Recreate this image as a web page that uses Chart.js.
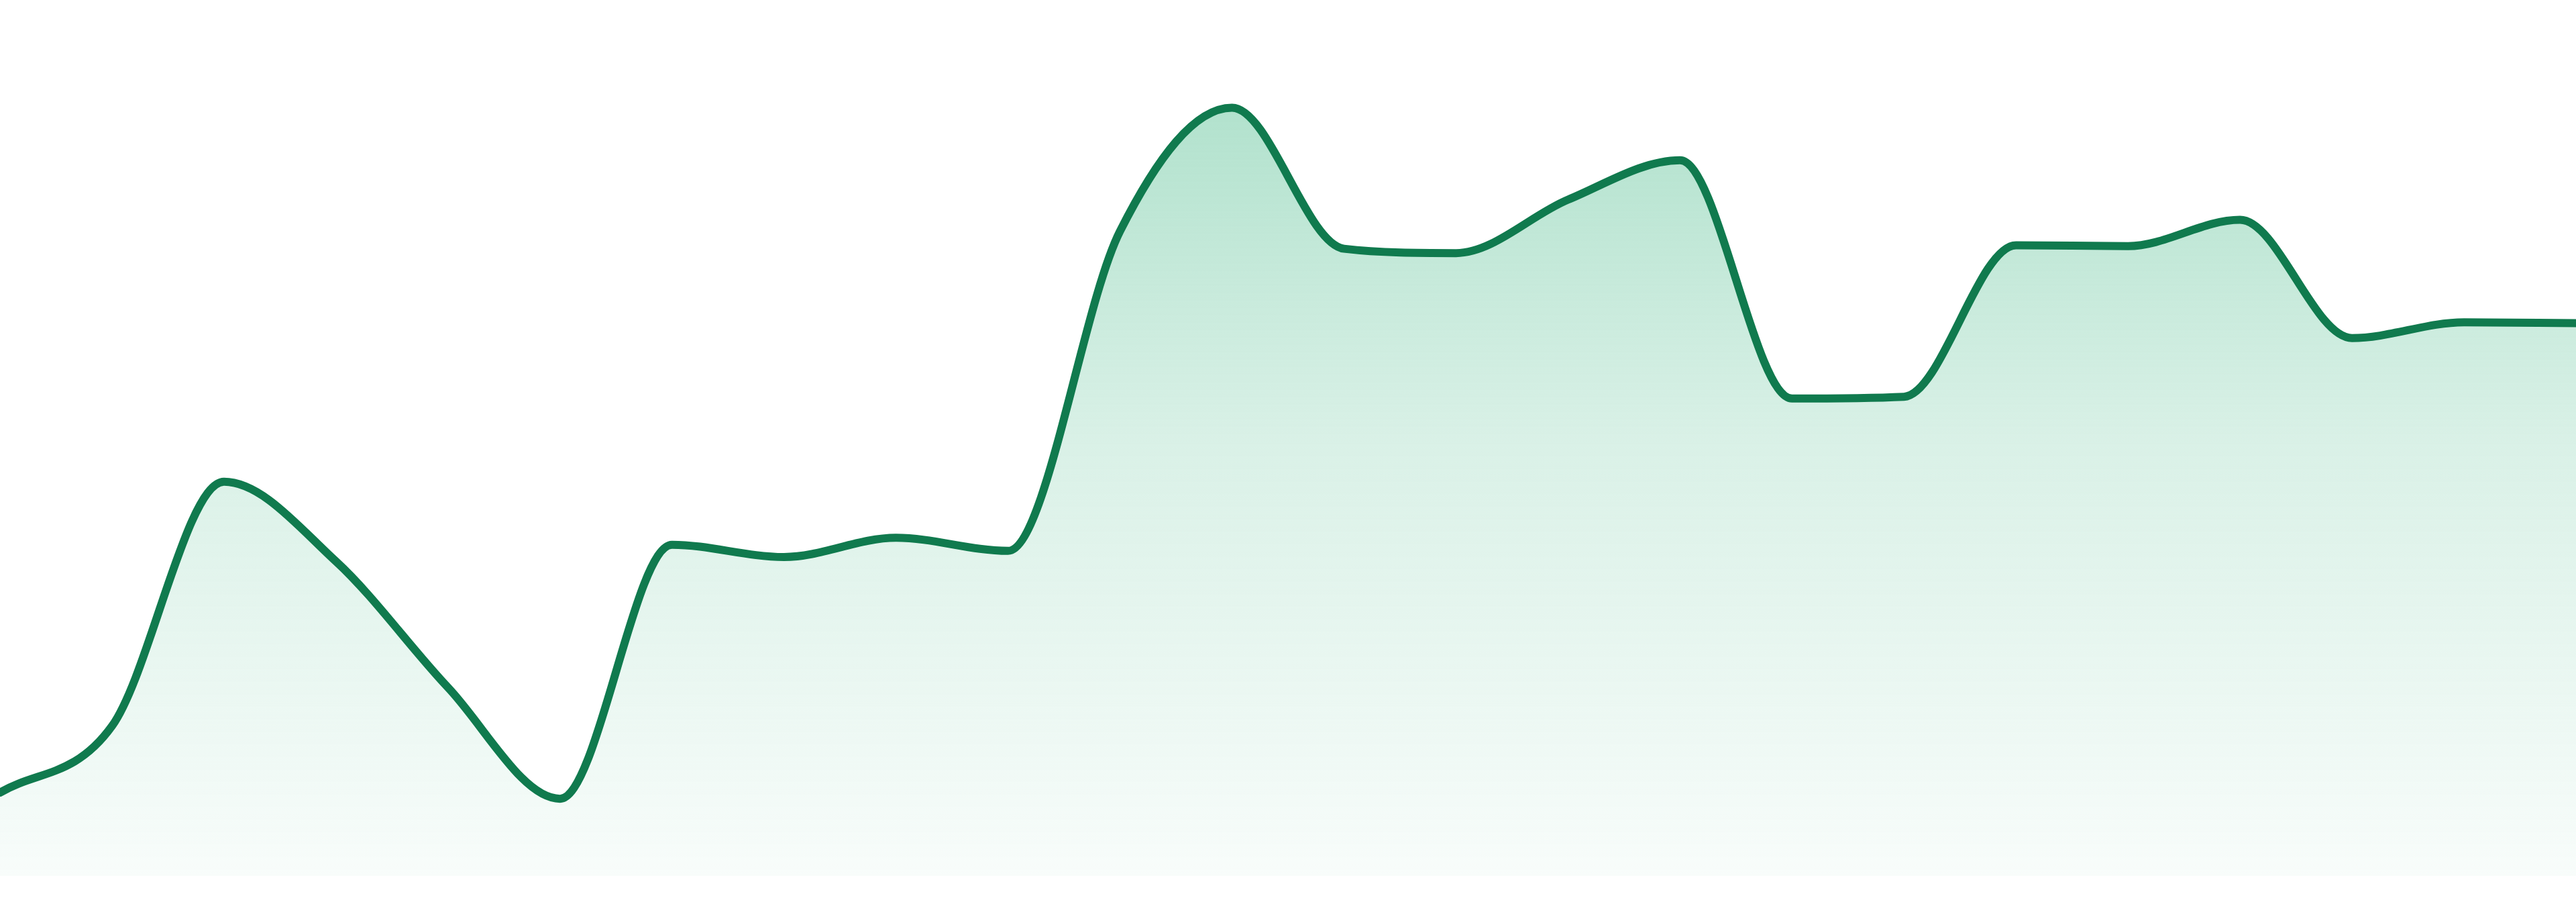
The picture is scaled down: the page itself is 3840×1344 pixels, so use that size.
<!DOCTYPE html>
<html>
<head>
<meta charset="utf-8">
<script src="https://cdn.jsdelivr.net/npm/chart.js@4"></script>
<style>
  html, body { margin: 0; padding: 0; background: #ffffff; overflow: hidden; }
  #wrap { width: 3840px; height: 1344px; }
</style>
</head>
<body>
<div id="wrap"><canvas id="c" width="3840" height="1344"></canvas></div>
<script>
const labels = ["1","2","3","4","5","6","7","8","9","10","11","12","13","14","15","16","17","18","19","20","21","22","23","24"];
const values = [9.5, 17.1, 45.0, 35.9, 21.5, 8.8, 37.8, 36.4, 38.6, 37.1, 73.6, 87.7, 71.6, 71.1, 77.2, 81.7, 54.5, 54.7, 72.0, 71.9, 74.9, 61.4, 63.2, 63.1];
const yMin = 0;
const yMax = 100;

const lineColor = "#107a4e";

function fillGradient(ctx) {
  const chart = ctx.chart;
  const area = chart.chartArea;
  if (!area) return "rgba(30,170,110,0.2)";
  const g = chart.ctx.createLinearGradient(0, area.top, 0, area.bottom);
  g.addColorStop(0, "rgba(30,170,110,0.40)");
  g.addColorStop(0.5, "rgba(30,170,110,0.17)");
  g.addColorStop(1, "rgba(30,170,110,0.03)");
  return g;
}

new Chart(document.getElementById("c"), {
  type: "line",
  data: {
    labels: labels,
    datasets: [{
      data: values,
      borderColor: lineColor,
      borderWidth: 12,
      backgroundColor: fillGradient,
      fill: "start",
      cubicInterpolationMode: "monotone",
      pointRadius: 0,
      pointHoverRadius: 0,
      borderCapStyle: "round",
      borderJoinStyle: "round"
    }]
  },
  options: {
    responsive: false,
    animation: false,
    devicePixelRatio: 1,
    layout: { padding: { left: 0, right: 0, top: 0, bottom: 39 } },
    plugins: { legend: { display: false }, tooltip: { enabled: false } },
    scales: {
      x: { display: false, offset: false },
      y: { display: false, min: yMin, max: yMax }
    },
    clip: false
  }
});
</script>
</body>
</html>
